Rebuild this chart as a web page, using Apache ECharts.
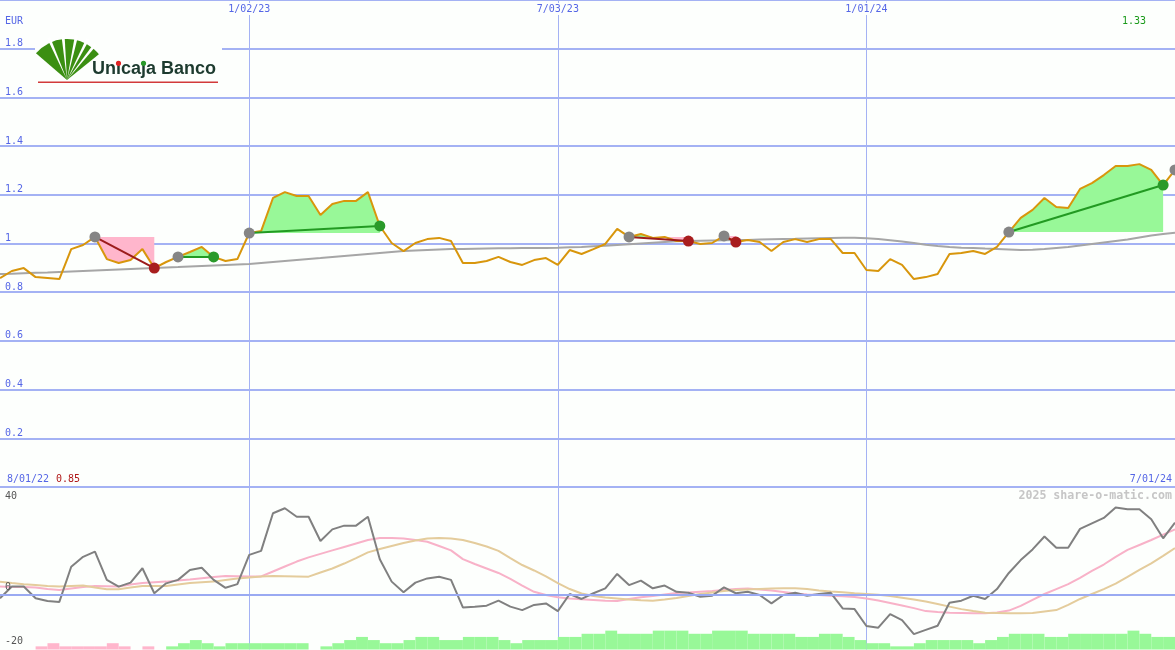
<!DOCTYPE html>
<html><head><meta charset="utf-8">
<script src="https://cdn.jsdelivr.net/npm/echarts@6/dist/echarts.min.js"></script>
<style>html,body{margin:0;padding:0;background:#fdfffd}#c{width:1175px;height:650px}</style>
</head><body><div id="c"></div><script>
// ---- data (weekly) ----
const price = [0.858,0.887,0.899,0.862,0.858,0.854,0.977,0.994,1.027,0.936,
0.920,0.932,0.977,0.899,0.924,0.945,0.965,0.986,0.945,0.928,
0.936,1.043,1.051,1.187,1.211,1.195,1.195,1.117,1.162,1.175,
1.175,1.211,1.072,1.002,0.969,1.002,1.018,1.023,1.010,0.920,
0.920,0.928,0.945,0.924,0.912,0.932,0.940,0.912,0.973,0.957,
0.977,0.998,1.060,1.027,1.039,1.023,1.027,1.010,1.010,0.998,
1.002,1.031,1.006,1.014,1.006,0.969,1.006,1.018,1.006,1.018,
1.018,0.961,0.961,0.891,0.887,0.936,0.912,0.854,0.862,0.875,
0.957,0.961,0.969,0.957,0.986,1.047,1.105,1.138,1.187,1.150,
1.146,1.224,1.248,1.281,1.318,1.318,1.326,1.302,1.240,1.302];
const priceMA = [0.875,0.876,0.878,0.880,0.881,0.883,0.885,0.887,0.889,0.891,
0.893,0.895,0.897,0.899,0.901,0.903,0.906,0.908,0.910,0.912,
0.914,0.916,0.920,0.924,0.928,0.932,0.936,0.940,0.945,0.949,
0.953,0.957,0.961,0.965,0.969,0.971,0.973,0.975,0.977,0.977,
0.978,0.979,0.980,0.981,0.982,0.982,0.982,0.983,0.985,0.986,
0.989,0.991,0.994,0.997,1.000,1.003,1.006,1.009,1.010,1.011,
1.012,1.013,1.014,1.014,1.016,1.017,1.018,1.019,1.021,1.022,
1.023,1.024,1.024,1.022,1.018,1.013,1.008,1.002,0.995,0.990,
0.986,0.983,0.982,0.979,0.977,0.975,0.973,0.974,0.977,0.982,
0.986,0.992,0.998,1.004,1.010,1.016,1.025,1.033,1.039,1.044];
const momentum = [-1.3,3.4,3.4,-1.3,-2.4,-2.8,11.4,15.4,17.5,6.1,
3.4,5.0,10.8,0.7,4.7,6.1,10.1,11.0,6.1,2.9,
4.4,16.2,17.8,33.0,35.0,31.6,31.6,21.8,26.5,28.0,
28.0,31.6,14.4,5.4,1.1,5.0,6.7,7.4,6.1,-5.0,
-4.7,-4.3,-2.3,-4.7,-6.1,-4.0,-3.4,-6.5,0.4,-1.6,
0.7,2.7,8.5,4.0,5.8,2.7,3.8,1.3,0.9,-0.7,
-0.3,3.1,0.7,1.3,0.0,-3.4,0.0,0.9,-0.3,0.4,
0.9,-5.4,-5.7,-12.5,-13.2,-7.7,-10.1,-15.8,-14.1,-12.4,
-3.1,-2.3,-0.3,-1.6,2.4,8.9,14.1,18.4,23.6,19.1,
19.1,26.7,28.9,31.1,35.3,34.6,34.6,30.6,22.9,29.2];
const signalFast = [3.4,3.2,3.2,3.0,2.4,2.0,2.6,3.2,3.6,3.5,
3.4,4.2,4.8,5.1,5.4,5.9,6.3,6.8,7.3,7.7,
7.6,7.5,7.5,9.5,11.5,13.5,15.2,16.6,18.0,19.4,
20.8,22.2,23.0,23.0,22.8,22.2,21.5,19.8,18.0,14.5,
12.5,10.7,8.9,6.5,3.8,1.3,0.0,-0.9,-1.4,-1.7,
-2.0,-2.3,-2.4,-1.6,-0.9,-0.4,0.2,0.8,1.0,1.3,
1.6,2.0,2.4,2.6,2.2,1.8,1.2,0.6,0.2,0.0,
-0.3,-0.5,-0.8,-1.4,-2.2,-3.2,-4.2,-5.3,-6.5,-6.9,
-7.2,-7.3,-7.4,-7.4,-7.1,-6.3,-4.4,-2.0,0.4,2.4,
4.4,6.9,9.7,12.3,15.4,18.2,20.2,22.2,24.4,26.5];
const signalSlow = [5.4,4.8,4.3,4.0,3.6,3.4,3.6,3.8,3.0,2.3,
2.3,3.0,3.6,3.6,3.6,4.2,4.8,5.1,5.4,6.1,
6.7,7.1,7.5,7.7,7.6,7.5,7.4,9.1,10.7,12.7,
14.9,17.2,18.6,19.8,21.0,22.0,22.8,23.0,22.8,22.2,
21.0,19.6,17.8,14.9,12.1,9.9,7.5,4.8,2.4,0.6,
-0.4,-1.0,-1.4,-1.8,-2.1,-2.3,-1.8,-1.2,-0.4,0.4,
1.0,1.6,2.0,2.2,2.4,2.6,2.7,2.7,2.4,1.8,
1.4,1.1,0.7,0.4,0.1,-0.4,-1.1,-1.8,-2.6,-3.6,
-4.7,-5.7,-6.5,-7.2,-7.3,-7.4,-7.4,-7.3,-6.7,-6.1,
-4.0,-1.6,0.4,2.4,4.6,7.3,10.1,12.8,15.8,18.9];
// histogram per week interval (negative = pink)
const histogram = [0,0,0,-1,-2,-1,-1,-1,-1,-2,
-1,0,-1,0,1,2,3,2,1,2,
2,2,2,2,2,2,0,1,2,3,
4,3,2,2,3,4,4,3,3,4,
4,4,3,2,3,3,3,4,4,5,
5,6,5,5,5,6,6,6,5,5,
6,6,6,5,5,5,5,4,4,5,
5,4,3,2,2,1,1,2,3,3,
3,3,2,3,4,5,5,5,4,4,
5,5,5,5,5,6,5,4,4];
// trades: [entry week, exit week, win?]
const trades = [[8,13,0],[15,18,1],[21,32,1],[53,58,0],[61,62,0],[85,98,1]];
const openEntries = [99];
const xTickLabels = {21:'1/02/23', 47:'7/03/23', 73:'1/01/24'};
const startLabel = '8/01/22', endLabel = '7/01/24';
const currency = 'EUR';
const weeks = price.map((_, i) => 'W' + i);
const bands = histogram.map((_, i) => 'B' + i);

const BG = '#fdfffd';
const MONO = '"DejaVu Sans Mono", monospace';
const BLUE_TXT = '#5566e6';
const GRID = '#a4b2f4';
const GREEN_FILL = '#98f898', PINK_FILL = '#ffb6cc';

const showTick = (i) => Object.prototype.hasOwnProperty.call(xTickLabels, i);

// logo pieces
const lcx = 67, lcy = 80, lR = 41;
const fanSeps = [-1.98, -1.66, -1.36, -1.10, -0.90].map(a => {
  const R = 46, d = 0.035;
  return {type: 'polygon', z: 102, shape: {points: [[lcx, lcy],
    [lcx + R * Math.cos(a - d), lcy + R * Math.sin(a - d)],
    [lcx + R * Math.cos(a + d), lcy + R * Math.sin(a + d)]]},
    style: {fill: '#ffffff'}};
});
const LOGO_FONT = 'bold 18px "Liberation Sans", Arial, sans-serif';
const mctx = document.createElement('canvas').getContext('2d');
mctx.font = LOGO_FONT;
const tw = s => mctx.measureText(s).width;
const iDotX = 92 + tw('Un') + tw('i') / 2;
const jDotX = 92 + tw('Unicaj') - tw('j') / 2 + 1;

const chart = echarts.init(document.getElementById('c'), null, {renderer: 'canvas'});
chart.setOption({
  animation: false,
  backgroundColor: BG,
  grid: [
    {left: 0, right: 0, top: 0, height: 487},
    {left: 0, right: 0, top: 486, height: 163.5}
  ],
  xAxis: [
    {gridIndex: 0, type: 'category', data: weeks, boundaryGap: false, position: 'top',
      axisLine: {show: false}, axisTick: {show: false},
      axisLabel: {inside: true, interval: (i) => showTick(i), formatter: (v, i) => xTickLabels[i] || '',
        color: BLUE_TXT, fontFamily: MONO, fontSize: 10, margin: 3, backgroundColor: BG, padding: [1, 1]},
      splitLine: {show: true, interval: (i) => showTick(i), lineStyle: {color: GRID, width: 1}}},
    {gridIndex: 1, type: 'category', data: weeks, boundaryGap: false, position: 'top',
      axisLine: {show: true, lineStyle: {color: '#7686ec', width: 2}}, axisTick: {show: false},
      axisLabel: {show: false},
      splitLine: {show: true, interval: (i) => showTick(i), lineStyle: {color: GRID, width: 1}}},
    {gridIndex: 1, type: 'category', data: bands, boundaryGap: true, show: false}
  ],
  yAxis: [
    {gridIndex: 0, type: 'value', min: 0, max: 2, interval: 0.2,
      axisLine: {show: false}, axisTick: {show: false},
      axisLabel: {inside: true, margin: 5, verticalAlign: 'bottom', color: BLUE_TXT, fontFamily: MONO, fontSize: 10,
        formatter: v => (v < 0.01 || v > 1.99) ? '' : String(Math.round(v * 10) / 10)},
      splitLine: {show: true, lineStyle: {color: GRID, width: 2}}},
    {gridIndex: 1, type: 'value', min: -22, max: 44, interval: 2, z: 20,
      axisLine: {show: false}, axisTick: {show: false}, splitLine: {show: false},
      axisLabel: {inside: true, margin: 5, color: '#555555', fontFamily: MONO, fontSize: 10,
        formatter: v => v === 40 ? '{a|40}' : v === 0 ? '{b|0}' : v === -20 ? '{c|-20}' : '',
        rich: {
          a: {color: '#555555', fontFamily: MONO, fontSize: 10},
          b: {color: '#555555', fontFamily: MONO, fontSize: 10, padding: [0, 0, 15, 0]},
          c: {color: '#555555', fontFamily: MONO, fontSize: 10, padding: [0, 0, 6, 0]}
        }}},
    {gridIndex: 1, type: 'value', min: 0, max: 52, show: false}
  ],
  series: [
    {type: 'custom', name: 'tradeFill', xAxisIndex: 0, yAxisIndex: 0, z: 2, silent: true,
      data: trades, encode: {x: [0, 1], y: 2},
      renderItem: (params, api) => {
        const s = api.value(0), e = api.value(1);
        const L = price[s];
        const up = [], dn = [];
        for (let i = s; i <= e; i++) {
          up.push(api.coord([i, Math.max(price[i], L)]));
          dn.push(api.coord([i, Math.min(price[i], L)]));
        }
        const close = [api.coord([e, L]), api.coord([s, L])];
        return {type: 'group', children: [
          {type: 'polygon', shape: {points: up.concat(close)}, style: {fill: GREEN_FILL}},
          {type: 'polygon', shape: {points: dn.concat(close)}, style: {fill: PINK_FILL}}
        ]};
      }},
    {type: 'line', name: 'MA', xAxisIndex: 0, yAxisIndex: 0, data: priceMA, z: 3,
      symbol: 'none', lineStyle: {color: '#a6a6a6', width: 2}},
    {type: 'line', name: 'Price', xAxisIndex: 0, yAxisIndex: 0, data: price, z: 4,
      symbol: 'none', lineStyle: {color: '#d8960c', width: 2}},
    {type: 'custom', name: 'tradeLine', xAxisIndex: 0, yAxisIndex: 0, z: 5, silent: true,
      data: trades, encode: {x: [0, 1], y: 2},
      renderItem: (params, api) => {
        const s = api.value(0), e = api.value(1), win = api.value(2);
        const a = api.coord([s, price[s]]), b = api.coord([e, price[e]]);
        return {type: 'line', shape: {x1: a[0], y1: a[1], x2: b[0], y2: b[1]},
          style: {stroke: win ? '#229a22' : '#9c1c1c', lineWidth: 2}};
      }},
    {type: 'scatter', name: 'entries', xAxisIndex: 0, yAxisIndex: 0, z: 6, symbolSize: 11,
      itemStyle: {color: '#858585', opacity: 1},
      data: trades.map(t => [t[0], price[t[0]]]).concat(openEntries.map(i => [i, price[i]]))},
    {type: 'scatter', name: 'exits', xAxisIndex: 0, yAxisIndex: 0, z: 6, symbolSize: 11,
      data: trades.map(t => ({value: [t[1], price[t[1]]], itemStyle: {color: t[2] ? '#2a9a2a' : '#a81e1e', opacity: 1}}))},

    {type: 'bar', name: 'hist', xAxisIndex: 2, yAxisIndex: 2, z: 1, barWidth: '100%', barCategoryGap: '0%',
      data: histogram.map(v => ({value: Math.abs(v), itemStyle: {color: v < 0 ? PINK_FILL : GREEN_FILL}}))},
    {type: 'line', name: 'fast', xAxisIndex: 1, yAxisIndex: 1, data: signalFast, z: 2,
      symbol: 'none', lineStyle: {color: '#f8b2c8', width: 2},
      markLine: {silent: true, symbol: 'none', label: {show: false},
        lineStyle: {color: '#9aaaf2', width: 2, type: 'solid'}, data: [{yAxis: 0}]}},
    {type: 'line', name: 'slow', xAxisIndex: 1, yAxisIndex: 1, data: signalSlow, z: 3,
      symbol: 'none', lineStyle: {color: '#e4cc9c', width: 2}},
    {type: 'line', name: 'momentum', xAxisIndex: 1, yAxisIndex: 1, data: momentum, z: 4,
      symbol: 'none', lineStyle: {color: '#808080', width: 2}}
  ],
  graphic: [
    {type: 'rect', shape: {x: 35, y: 35, width: 187, height: 52}, style: {fill: BG}, z: 100},
    {type: 'sector', shape: {cx: lcx, cy: lcy, r0: 0, r: lR, startAngle: -2.43, endAngle: -0.68, clockwise: true},
      style: {fill: '#3b8f12'}, z: 101},
    ...fanSeps,
    {type: 'text', x: 92, y: 69.5, z: 103, style: {text: 'Unicaja Banco', fill: '#1d3b2f',
      font: LOGO_FONT, verticalAlign: 'middle'}},
    {type: 'circle', z: 104, shape: {cx: iDotX, cy: 63.3, r: 2.6}, style: {fill: '#e02424'}},
    {type: 'circle', z: 104, shape: {cx: jDotX - 1, cy: 63.3, r: 2.6}, style: {fill: '#2a9a2a'}},
    {type: 'rect', shape: {x: 38, y: 81.5, width: 180, height: 1.5}, style: {fill: '#d23a3a'}, z: 103},

    {type: 'text', x: 5, y: 21.5, z: 110, style: {text: currency, fill: BLUE_TXT, font: '10px ' + MONO, verticalAlign: 'middle'}},
    {type: 'text', x: 1122, y: 21, z: 110, style: {text: Math.max(...price).toFixed(2), fill: '#1a9a1a', font: '10px ' + MONO, verticalAlign: 'middle'}},
    {type: 'text', x: 7, y: 479, z: 110, style: {text: startLabel, fill: BLUE_TXT, font: '10px ' + MONO, verticalAlign: 'middle'}},
    {type: 'text', x: 56, y: 479, z: 110, style: {text: Math.min(...price).toFixed(2), fill: '#b01818', font: '10px ' + MONO, verticalAlign: 'middle'}},
    {type: 'text', x: 1172, y: 479, z: 110, style: {text: endLabel, fill: BLUE_TXT, font: '10px ' + MONO, align: 'right', verticalAlign: 'middle'}},
    {type: 'text', x: 1172, y: 496, z: 110, style: {text: '2025 share-o-matic.com', fill: '#c6c6c6', font: 'bold 11.6px ' + MONO, align: 'right', verticalAlign: 'middle'}}
  ]
});
</script></body></html>
